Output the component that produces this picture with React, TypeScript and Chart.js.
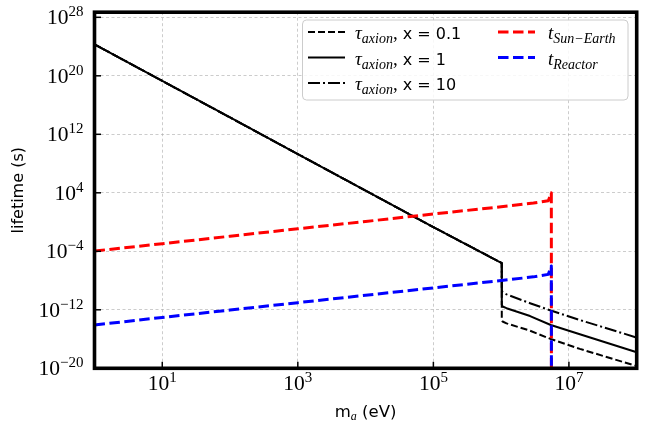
import React, { useEffect, useRef } from "react";
import { Chart, registerables } from "chart.js";

Chart.register(...registerables);

// ---------- data ----------
const massAxion = [1, 10, 100, 1e3, 1e4, 1e5, 1.02e6, 1.022e6, 1.05e6, 1.2e6, 2.67e6, 5.4e6, 1.45e7, 1e8];
const tauAxionX01 = [2e24, 2e19, 2e14, 2e9, 2e4, 2e-1, 2.5e-6, 4e-14, 2.5e-14, 1.4e-14, 1.4e-15, 1e-16, 4.5e-18, 2e-20];
const tauAxionX1 = [2e24, 2e19, 2e14, 2e9, 2e4, 2e-1, 2.5e-6, 5e-12, 2.8e-12, 1.66e-12, 1.4e-13, 8.3e-15, 4.5e-16, 1.6e-18];
const tauAxionX10 = [2e24, 2e19, 2e14, 2e9, 2e4, 2e-1, 2.5e-6, 5e-10, 2.5e-10, 1.3e-10, 8e-12, 8e-13, 4e-14, 1.6e-16];

const massSunEarth = [1, 10, 100, 1e3, 1e4, 1e5, 1e6, 3e6, 4.96e6, 5.5e6, 5.52e6];
const tSunEarth = [1.1e-4, 1.1e-3, 1.15e-2, 0.12, 1.2, 12.5, 125, 400, 830, 1e4, 1e-25];

const massReactor = [1, 10, 100, 1e3, 1e4, 1e5, 1e6, 3e6, 4.96e6, 5.5e6, 5.52e6];
const tReactor = [8.5e-15, 9e-14, 9.2e-13, 9.5e-12, 9.8e-11, 1e-9, 1e-8, 3.2e-8, 7e-8, 1e-6, 1e-25];

const xTickValues = [1e1, 1e3, 1e5, 1e7];
const yTickValues = [1e-20, 1e-12, 1e-4, 1e4, 1e12, 1e20, 1e28];

const xLimits = [1, 1e8];
const yLimits = [1e-20, 5e28];

const xTitle = { main: "m", sub: "a", rest: " (eV)" };
const yTitle = "lifetime (s)";

// ---------- styling ----------
const SERIF = '"Liberation Serif", "DejaVu Serif", serif';
const SANS = '"DejaVu Sans", sans-serif';

type Part = { text: string; font: string; dy?: number };

function drawParts(ctx: CanvasRenderingContext2D, parts: Part[], x: number, y: number, align: "left" | "center" | "right") {
  let w = 0;
  for (const p of parts) {
    ctx.font = p.font;
    w += ctx.measureText(p.text).width;
  }
  let cx = align === "left" ? x : align === "center" ? x - w / 2 : x - w;
  ctx.textAlign = "left";
  ctx.textBaseline = "alphabetic";
  for (const p of parts) {
    ctx.font = p.font;
    ctx.fillText(p.text, cx, y + (p.dy || 0));
    cx += ctx.measureText(p.text).width;
  }
}

function powParts(v: number): Part[] {
  const e = Math.round(Math.log10(v));
  const es = String(e).replace("-", "\u2212");
  return [
    { text: "10", font: `21.5px ${SERIF}` },
    { text: es, font: `15px ${SERIF}`, dy: -8 },
  ];
}

const decorPlugin = {
  id: "decor",
  afterDatasetsDraw(chart: any) {
    const { ctx, chartArea: a, scales } = chart;
    ctx.save();
    ctx.strokeStyle = "#000";
    ctx.lineWidth = 1.5;
    ctx.setLineDash([]);
    for (const v of xTickValues) {
      const px = scales.x.getPixelForValue(v);
      ctx.beginPath();
      ctx.moveTo(px, a.bottom);
      ctx.lineTo(px, a.bottom - 6.5);
      ctx.stroke();
    }
    for (const v of yTickValues) {
      const py = scales.y.getPixelForValue(v);
      ctx.beginPath();
      ctx.moveTo(a.left, py);
      ctx.lineTo(a.left + 6.5, py);
      ctx.stroke();
    }
    ctx.lineWidth = 3.6;
    ctx.strokeRect(a.left, a.top, a.right - a.left, a.bottom - a.top);
    ctx.restore();
  },
  afterDraw(chart: any) {
    const { ctx, chartArea: a, scales } = chart;
    ctx.save();
    ctx.fillStyle = "#000";
    // tick labels
    for (const v of xTickValues) {
      const px = scales.x.getPixelForValue(v);
      drawParts(ctx, powParts(v), px, a.bottom + 22, "center");
    }
    for (const v of yTickValues) {
      const py = scales.y.getPixelForValue(v);
      drawParts(ctx, powParts(v), a.left - 11, py + 7, "right");
    }
    // axis titles
    drawParts(
      ctx,
      [
        { text: xTitle.main, font: `16.5px ${SANS}` },
        { text: xTitle.sub, font: `italic 12px ${SERIF}`, dy: 3 },
        { text: xTitle.rest, font: `16.5px ${SANS}` },
      ],
      (a.left + a.right) / 2,
      416.5,
      "center"
    );
    ctx.save();
    ctx.translate(18.5, (a.top + a.bottom) / 2);
    ctx.rotate(-Math.PI / 2);
    ctx.font = `16px ${SANS}`;
    ctx.textAlign = "center";
    ctx.textBaseline = "middle";
    ctx.fillText(yTitle, 0, 0);
    ctx.restore();

    // legend
    const bx = 302.5, by = 20, bw = 325.5, bh = 80, r = 4;
    ctx.beginPath();
    ctx.moveTo(bx + r, by);
    ctx.lineTo(bx + bw - r, by);
    ctx.quadraticCurveTo(bx + bw, by, bx + bw, by + r);
    ctx.lineTo(bx + bw, by + bh - r);
    ctx.quadraticCurveTo(bx + bw, by + bh, bx + bw - r, by + bh);
    ctx.lineTo(bx + r, by + bh);
    ctx.quadraticCurveTo(bx, by + bh, bx, by + bh - r);
    ctx.lineTo(bx, by + r);
    ctx.quadraticCurveTo(bx, by, bx + r, by);
    ctx.closePath();
    ctx.fillStyle = "rgba(255,255,255,0.85)";
    ctx.fill();
    ctx.strokeStyle = "#cccccc";
    ctx.lineWidth = 1;
    ctx.setLineDash([]);
    ctx.stroke();

    const rows = [32, 57.5, 83];
    const cols = [
      { x0: 308, x1: 345, tx: 355 },
      { x0: 498, x1: 535, tx: 548 },
    ];
    const ds = chart.data.datasets;
    const slots = [
      [0, 0], [0, 1], [0, 2], [1, 0], [1, 1],
    ];
    ds.forEach((d: any, i: number) => {
      const [c, rr] = slots[i];
      const col = cols[c];
      const y = rows[rr];
      ctx.save();
      ctx.strokeStyle = d.borderColor;
      ctx.lineWidth = d.borderWidth;
      ctx.setLineDash(d.borderDash || []);
      ctx.beginPath();
      ctx.moveTo(col.x0, y);
      ctx.lineTo(col.x1, y);
      ctx.stroke();
      ctx.restore();
      ctx.fillStyle = "#000";
      const parts: Part[] = [
        { text: d.symbol, font: `italic 19px ${SERIF}` },
        { text: d.sub, font: `italic 14px ${SERIF}`, dy: 4 },
      ];
      if (d.suffix) {
        parts.push({ text: ",", font: `19px ${SERIF}` });
        parts.push({ text: d.suffix, font: `16px ${SANS}` });
      }
      drawParts(ctx, parts, col.tx, y + 7, "left");
    });
    ctx.restore();
  },
};

function pts(xs: number[], ys: number[]) {
  return xs.map((x, i) => ({ x, y: ys[i] }));
}

export default function App() {
  const ref = useRef<HTMLCanvasElement | null>(null);
  useEffect(() => {
    if (!ref.current) return;
    const axisCommon = {
      type: "logarithmic" as const,
      ticks: { display: false },
      grid: { color: "rgba(170,170,170,0.75)", lineWidth: 0.8, drawTicks: false },
      border: { display: false, dash: [3, 2.5] },
      title: { display: false },
    };
    const chart = new Chart(ref.current, {
      type: "line",
      data: {
        datasets: [
          {
            label: "τ_axion, x = 0.1",
            symbol: "τ", sub: "axion", suffix: " x = 0.1",
            data: pts(massAxion, tauAxionX01),
            borderColor: "#000", borderWidth: 2, borderDash: [7, 3], order: 2,
          },
          {
            label: "τ_axion, x = 1",
            symbol: "τ", sub: "axion", suffix: " x = 1",
            data: pts(massAxion, tauAxionX1),
            borderColor: "#000", borderWidth: 2, borderDash: [], order: 2,
          },
          {
            label: "τ_axion, x = 10",
            symbol: "τ", sub: "axion", suffix: " x = 10",
            data: pts(massAxion, tauAxionX10),
            borderColor: "#000", borderWidth: 2, borderDash: [12, 3, 2, 3], order: 2,
          },
          {
            label: "t_Sun−Earth",
            symbol: "t", sub: "Sun\u2212Earth", suffix: "",
            data: pts(massSunEarth, tSunEarth),
            borderColor: "#ff0000", borderWidth: 3, borderDash: [10.5, 4.5], order: 1,
          },
          {
            label: "t_Reactor",
            symbol: "t", sub: "Reactor", suffix: "",
            data: pts(massReactor, tReactor),
            borderColor: "#0000ff", borderWidth: 3, borderDash: [10.5, 4.5], order: 0,
          },
        ] as any,
      },
      options: {
        responsive: false,
        animation: false,
        devicePixelRatio: 1,
        layout: { padding: { left: 94.5, right: 11.3, top: 12.2, bottom: 63.7 } },
        elements: {
          point: { radius: 0, hoverRadius: 0 },
          line: { tension: 0, borderJoinStyle: "round", borderCapStyle: "butt", fill: false },
        },
        plugins: { legend: { display: false }, tooltip: { enabled: false } },
        scales: {
          x: {
            ...axisCommon,
            position: "bottom",
            min: xLimits[0],
            max: xLimits[1],
            afterBuildTicks: (s: any) => {
              s.ticks = xTickValues.map((v) => ({ value: v }));
            },
            afterFit: (s: any) => {
              s.height = 0;
            },
          },
          y: {
            ...axisCommon,
            position: "left",
            min: yLimits[0],
            max: yLimits[1],
            afterBuildTicks: (s: any) => {
              s.ticks = yTickValues.map((v) => ({ value: v }));
            },
            afterFit: (s: any) => {
              s.width = 0;
            },
          },
        } as any,
      } as any,
      plugins: [decorPlugin],
    });
    return () => chart.destroy();
  }, []);
  return (
    <div style={{ position: "fixed", left: 0, top: 0, width: 648, height: 432, background: "#fff" }}>
      <canvas ref={ref} width={648} height={432} style={{ display: "block" }} />
    </div>
  );
}
